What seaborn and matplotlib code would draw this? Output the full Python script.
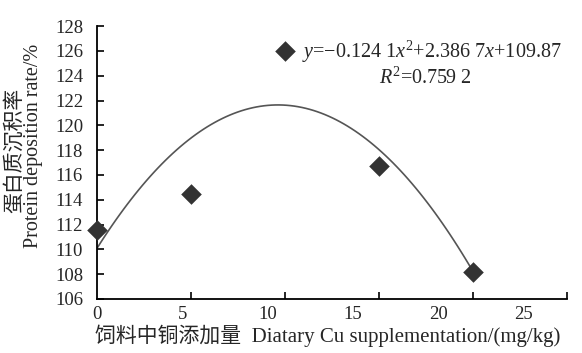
import numpy as np
import pandas as pd
import matplotlib
matplotlib.use('Agg')
import matplotlib.pyplot as plt
import seaborn as sns

sns.set_style('ticks')
plt.rcParams['font.family'] = ['Liberation Serif', 'Noto Sans CJK SC']
plt.rcParams['mathtext.fontset'] = 'custom'
plt.rcParams['mathtext.rm'] = 'Liberation Serif'
plt.rcParams['mathtext.it'] = 'Liberation Serif:italic'

# Cu supplementation (mg/kg) and protein deposition rate (%)
cu = [0, 5.5, 11, 16.5, 22]
rate = [111.6, 114.5, 126.0, 116.7, 108.2]
xtick_labels = [0, 5, 10, 15, 20, 25]
yticks = list(range(106, 129, 2))

data = pd.DataFrame({'cu': cu, 'rate': rate})

fig = plt.figure(figsize=(5.82, 3.53), dpi=100)
ax = fig.add_axes([0.1667, 0.153, 0.807, 0.773])

# quadratic trendline
sns.regplot(data=data, x='cu', y='rate', order=2, ci=None, scatter=False,
            color='#555555', line_kws={'lw': 1.2}, ax=ax)
sns.scatterplot(data=data, x='cu', y='rate', marker='D', s=110, color='#333333',
                edgecolor='#333333', linewidth=0, ax=ax, zorder=3, clip_on=False)

ax.set_xlim(0, 27.5)
ax.set_ylim(106, 128)
ax.set_yticks(yticks)
ax.set_yticklabels([str(v) for v in yticks], fontsize=13.5)
# labelled ticks without marks, marks at the data positions
ax.set_xticks(xtick_labels)
ax.set_xticklabels([str(v) for v in xtick_labels], fontsize=13.5)
ax.set_xticks([5.5, 11, 16.5, 22, 27.5], minor=True)
ax.tick_params(axis='x', which='minor', direction='in', length=5, width=1.2, color='black')
ax.tick_params(axis='x', which='major', length=0, pad=5)
ax.tick_params(axis='y', direction='in', length=5, width=1.2, color='black', pad=10)
for s in ['left', 'bottom']:
    ax.spines[s].set_color('black')
    ax.spines[s].set_linewidth(1.3)
sns.despine(ax=ax)
ax.set_xlabel('')
ax.set_ylabel('')

ax.text(0.436, 0.905, r'$\it{y}$=−0.124 1$\it{x}^{2}$+2.386 7$\it{x}$+109.87',
        transform=ax.transAxes, fontsize=14.5, ha='left', va='center')
ax.text(0.698, 0.81, r'$\it{R}^{2}$=0.759 2', transform=ax.transAxes,
        fontsize=14.5, ha='center', va='center')

fig.text(0.026, 0.575, '蛋白质沉积率', rotation=90, fontsize=15, ha='center', va='center')
fig.text(0.057, 0.586, 'Protein deposition rate/%', rotation=90, fontsize=14.5,
         ha='center', va='center')
fig.text(0.563, 0.048, '饲料中铜添加量  Diatary Cu supplementation/(mg/kg)', fontsize=15,
         ha='center', va='center')

fig.savefig('out.png', dpi=100)
